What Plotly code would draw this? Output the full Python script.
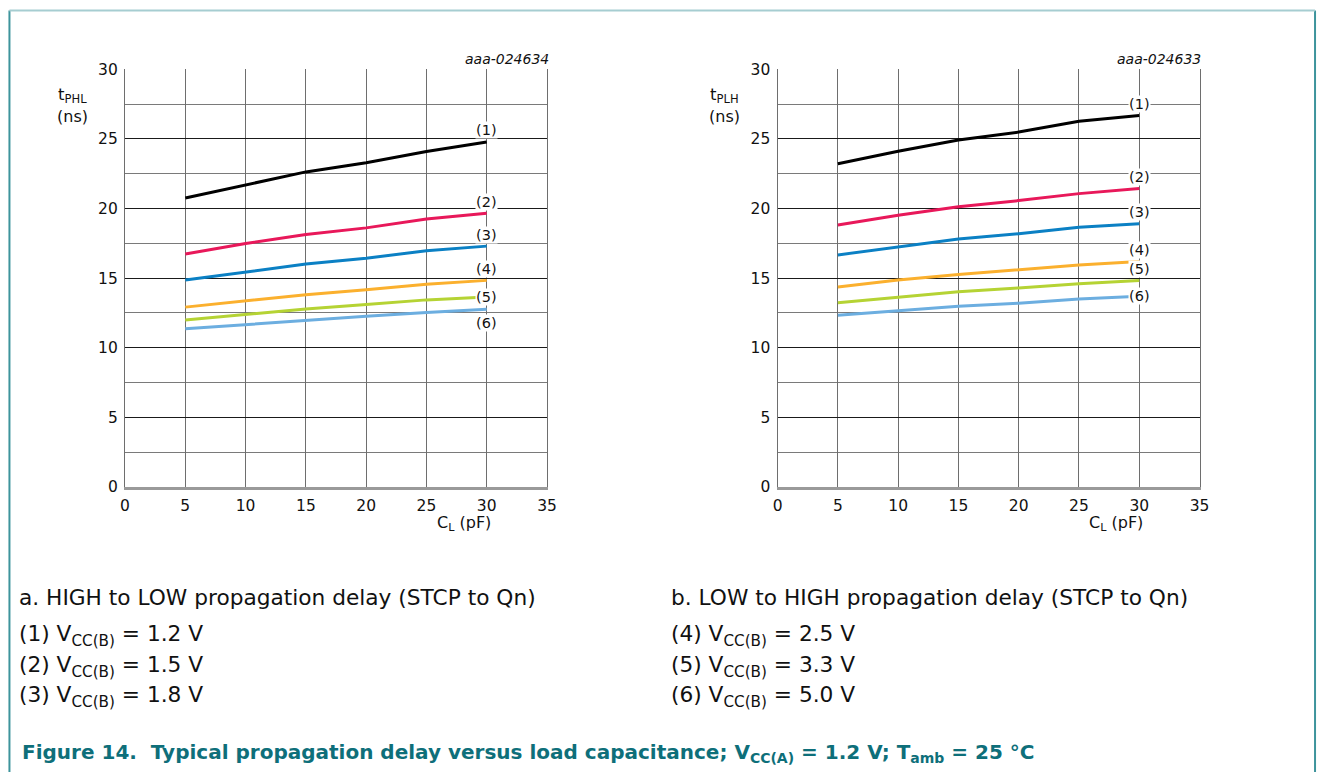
import plotly.graph_objects as go

# ---------------- data ----------------
cl_pf = [5, 10, 15, 20, 25, 30]

curve_names = ["(1)", "(2)", "(3)", "(4)", "(5)", "(6)"]
vcc_b = ["1.2", "1.5", "1.8", "2.5", "3.3", "5.0"]

tphl_1 = [20.76, 21.70, 22.63, 23.29, 24.10, 24.78]
tphl_2 = [16.74, 17.49, 18.14, 18.61, 19.24, 19.66]
tphl_3 = [14.87, 15.43, 16.01, 16.43, 16.97, 17.30]
tphl_4 = [12.92, 13.39, 13.81, 14.16, 14.56, 14.84]
tphl_5 = [11.99, 12.39, 12.78, 13.11, 13.44, 13.65]
tphl_6 = [11.36, 11.68, 11.99, 12.27, 12.53, 12.76]

tplh_1 = [23.22, 24.11, 24.92, 25.49, 26.26, 26.68]
tplh_2 = [18.82, 19.52, 20.13, 20.57, 21.07, 21.44]
tplh_3 = [16.67, 17.25, 17.81, 18.19, 18.65, 18.91]
tplh_4 = [14.37, 14.87, 15.26, 15.59, 15.94, 16.20]
tplh_5 = [13.23, 13.62, 14.02, 14.30, 14.60, 14.84]
tplh_6 = [12.34, 12.64, 12.99, 13.20, 13.50, 13.70]

x_ticks = [0, 5, 10, 15, 20, 25, 30, 35]
y_ticks = [0, 5, 10, 15, 20, 25, 30]

tphl_series = [tphl_1, tphl_2, tphl_3, tphl_4, tphl_5, tphl_6]
tplh_series = [tplh_1, tplh_2, tplh_3, tplh_4, tplh_5, tplh_6]

# label placement relative to curve end
phl_label_place = ["above", "above", "above", "above", "on", "below"]
plh_label_place = ["above", "above", "above", "above", "above", "on"]

# ---------------- styles ----------------
colors = ["#000000", "#e8185a", "#0b80c4", "#fbb02e", "#b5d334", "#6caee0"]
FONT = "DejaVu Sans, Liberation Sans, Arial, sans-serif"
TEAL = "#0e6f7a"
W, H = 1328, 781


def px_x(p):
    return p / W


def px_y(p):
    return 1 - p / H


fig = go.Figure()

for i, s in enumerate(tphl_series):
    fig.add_trace(go.Scatter(x=cl_pf, y=s, mode="lines", xaxis="x", yaxis="y",
                             line=dict(color=colors[i], width=3), showlegend=False,
                             hoverinfo="skip"))
for i, s in enumerate(tplh_series):
    fig.add_trace(go.Scatter(x=cl_pf, y=s, mode="lines", xaxis="x2", yaxis="y2",
                             line=dict(color=colors[i], width=3), showlegend=False,
                             hoverinfo="skip"))

ydom = [px_y(489.3), px_y(61.7)]
xdom1 = [px_x(121.4), px_x(548.2)]
xdom2 = [px_x(781.4), px_x(1208.2)]

xax = dict(range=[0, 35], tickvals=x_ticks, ticktext=[str(v) for v in x_ticks],
           showgrid=True, gridcolor="#6e6e6e", gridwidth=1.3, zeroline=False,
           showline=True, linecolor="#9a9a9a", linewidth=2.5,
           ticks="", ticklabelstandoff=3,
           tickfont=dict(family=FONT, size=15.5, color="#111"), fixedrange=True)
yax = dict(range=[0, 30], tickvals=y_ticks, ticktext=[str(v) for v in y_ticks],
           showgrid=True, gridcolor="#1a1a1a", gridwidth=1.3, zeroline=False,
           showline=True, linecolor="#6e6e6e", linewidth=1.3, mirror=True,
           minor=dict(tickvals=[2.5, 7.5, 12.5, 17.5, 22.5, 27.5], showgrid=True,
                      gridcolor="#7a7a7a", gridwidth=1.3),
           ticks="", ticklabelstandoff=3,
           tickfont=dict(family=FONT, size=15.5, color="#111"), fixedrange=True)

fig.update_layout(
    width=W, height=H,
    margin=dict(l=0, r=0, t=0, b=0),
    paper_bgcolor="white", plot_bgcolor="white",
    xaxis=dict(domain=xdom1, anchor="y", **xax),
    yaxis=dict(domain=ydom, anchor="x", **yax),
    xaxis2=dict(domain=xdom2, anchor="y2", **xax),
    yaxis2=dict(domain=ydom, anchor="x2", **yax),
)

ann = []
shift = {"above": 11.5, "on": 0, "below": -14}
for xa, ya, series, places in [("x", "y", tphl_series, phl_label_place),
                               ("x2", "y2", tplh_series, plh_label_place)]:
    for i, s in enumerate(series):
        ann.append(dict(x=cl_pf[-1], y=s[-1], xref=xa, yref=ya, text=curve_names[i],
                        showarrow=False, bgcolor="white", borderpad=0,
                        yshift=shift[places[i]],
                        font=dict(family=FONT, size=14.5, color="#111")))

# chart ids
for xr, txt in [(552, "aaa-024634"), (1212, "aaa-024633")]:
    ann.append(dict(x=px_x(xr), y=px_y(51), xref="paper", yref="paper", text="<i>" + txt + "</i>",
                    xanchor="right", yanchor="middle", showarrow=False,
                    font=dict(family=FONT, size=14, color="#111")))

# y titles
for xc, sub in [(68, "PHL"), (728, "PLH")]:
    ann.append(dict(x=px_x(xc), y=px_y(89), xref="paper", yref="paper",
                    text="t<sub>" + sub + "</sub>", xanchor="center", yanchor="middle",
                    showarrow=False, font=dict(family=FONT, size=16.5, color="#111")))
    ann.append(dict(x=px_x(xc), y=px_y(110), xref="paper", yref="paper",
                    text="(ns)", xanchor="center", yanchor="middle",
                    showarrow=False, font=dict(family=FONT, size=16, color="#111")))

# x titles
for xc in [464, 1124]:
    ann.append(dict(x=px_x(xc), y=px_y(527), xref="paper", yref="paper",
                    text="C<sub>L</sub> (pF)", xanchor="center", yanchor="middle",
                    showarrow=False, font=dict(family=FONT, size=16, color="#111")))

# captions
cap_font = dict(family=FONT, size=21.7, color="#111")
ann.append(dict(x=px_x(12.5), y=px_y(602.5), xref="paper", yref="paper",
                text="a. HIGH to LOW propagation delay (STCP to Qn)", xanchor="left",
                yanchor="middle", showarrow=False, font=cap_font))
ann.append(dict(x=px_x(672), y=px_y(602.5), xref="paper", yref="paper",
                text="b. LOW to HIGH propagation delay (STCP to Qn)", xanchor="left",
                yanchor="middle", showarrow=False, font=cap_font))
rows_y = [641, 673, 703.5]
for i in range(6):
    xc = 12 if i < 3 else 672
    yc = rows_y[i % 3]
    ann.append(dict(x=px_x(xc), y=px_y(yc), xref="paper", yref="paper",
                    text=curve_names[i] + " V<sub>CC(B)</sub> = " + vcc_b[i] + " V",
                    xanchor="left", yanchor="middle", showarrow=False, font=cap_font))

ann.append(dict(x=px_x(15), y=px_y(762), xref="paper", yref="paper",
                text="<b>Figure 14.\u00a0\u00a0Typical propagation delay versus load capacitance; "
                     "V<sub>CC(A)</sub> = 1.2 V; T<sub>amb</sub> = 25 °C</b>",
                xanchor="left", yanchor="middle", showarrow=False,
                font=dict(family=FONT, size=20, color=TEAL)))

fig.update_layout(annotations=ann)

# frame around the figure
fig.update_layout(shapes=[
    dict(type="line", xref="paper", yref="paper", x0=px_x(4.5), x1=px_x(4.5), y0=0, y1=px_y(1.5),
         line=dict(color="#3d949c", width=2)),
    dict(type="line", xref="paper", yref="paper", x0=px_x(1325), x1=px_x(1325), y0=0, y1=px_y(1.5),
         line=dict(color="#3d949c", width=2)),
    dict(type="line", xref="paper", yref="paper", x0=px_x(4.5), x1=px_x(1325), y0=px_y(1.5), y1=px_y(1.5),
         line=dict(color="#a6cdd1", width=2)),
])

fig.write_html(
    "out.html",
    config={"displayModeBar": False},
    post_script="document.body.style.margin='0';document.body.style.padding='0';"
                "document.documentElement.style.overflow='hidden';",
)
